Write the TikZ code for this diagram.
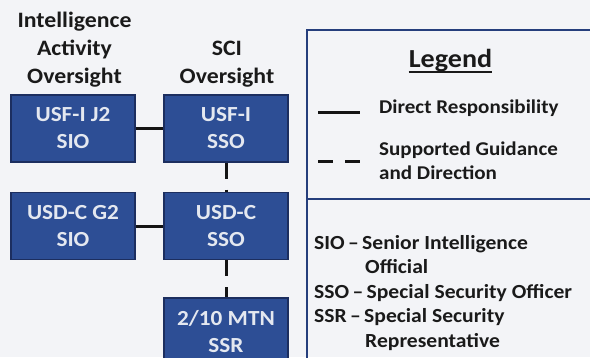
\documentclass[tikz,border=0pt]{standalone}
\usepackage{fontspec}
\setmainfont[FakeStretch=1.08]{Carlito}
\definecolor{bgcol}{HTML}{F3F4F7}
\definecolor{boxfill}{HTML}{2D4E95}
\definecolor{boxedge}{HTML}{1C2E5F}
\definecolor{boxtext}{HTML}{E4E8F0}
\definecolor{linecol}{HTML}{141414}
\definecolor{legendedge}{HTML}{253E7C}
\definecolor{inkcol}{HTML}{1A1A1A}
\begin{document}
\begin{tikzpicture}[x=1pt,y=-1pt,
  orgbox/.style={draw=boxedge, fill=boxfill, line width=1.2pt, minimum width=124pt,
    minimum height=67pt, inner sep=0pt, text=boxtext, align=center,
    font=\bfseries\fontsize{21.5}{27}\selectfont},
  link/.style={line width=3pt, draw=linecol},
  guide/.style={link, dash pattern=on 16pt off 11pt},
  heading/.style={anchor=base, inner sep=0pt, text=inkcol,
    font=\bfseries\fontsize{22}{28}\selectfont},
  legtext/.style={anchor=base west, inner sep=0pt, text=inkcol,
    font=\bfseries\fontsize{19.5}{24}\selectfont},
  abbrtext/.style={anchor=base west, inner sep=0pt, text=inkcol,
    font=\bfseries\fontsize{20}{24.5}\selectfont},
  legframe/.style={draw=legendedge, line width=2pt}]
\useasboundingbox (0,0) rectangle (590,357);
\clip (0,0) rectangle (590,357);
\fill[bgcol] (0,0) rectangle (590,357);

% headings
\node[heading] (h1) at (74.5,27) {\parbox[t]{150pt}{\centering Intelligence\\Activity\\Oversight}};
\node[heading] (h2) at (227,55) {\parbox[t]{150pt}{\centering SCI\\Oversight}};

% boxes
\node[orgbox] (j2) at (73,128.5) {USF-I J2\\SIO};
\node[orgbox] (usfi) at (226,128.5) {USF-I\\SSO};
\node[orgbox] (g2) at (73,226) {USD-C G2\\SIO};
\node[orgbox] (usdc) at (226,226) {USD-C\\SSO};
\node[orgbox] (mtn) at (226,331.5) {2/10 MTN\\SSR};

% connectors
\draw[link] (j2.east) -- (usfi.west);
\draw[link] (g2.east) -- (usdc.west);
\draw[guide] (usfi.south) -- (usdc.north);
\draw[guide] (usdc.south) -- (mtn.north);

% legend frame
\draw[legframe] (307,400) -- (307,30) -- (600,30);
\draw[legframe] (307,199) -- (600,199);

% legend content
\node[anchor=base, inner sep=0pt, text=inkcol, font=\bfseries\fontsize{26}{30}\selectfont] (title) at (450.5,67) {Legend};
\draw[inkcol, line width=2pt] ([yshift=-5pt]title.base west) -- ([yshift=-5pt]title.base east);

\coordinate (s1) at (318,112);
\coordinate (s2) at (360,112);
\draw[link] (s1) -- (s2);
\coordinate (d1) at (318,161);
\coordinate (d2) at (360,161);
\draw[link, dash pattern=on 15pt off 12pt] (d1) -- (d2);

\node[legtext] (direct) at (379,113) {Direct Responsibility};
\node[legtext] (support) at (379,155) {\parbox[t]{200pt}{Supported Guidance\\and Direction}};

\node[abbrtext] (abbr) at (314,249) {\parbox[t]{280pt}{SIO\,–\,Senior Intelligence\\\hspace*{51pt}Official\\SSO\,–\,Special Security Officer\\SSR\,–\,Special Security\\\hspace*{51pt}Representative}};
\end{tikzpicture}
\end{document}
